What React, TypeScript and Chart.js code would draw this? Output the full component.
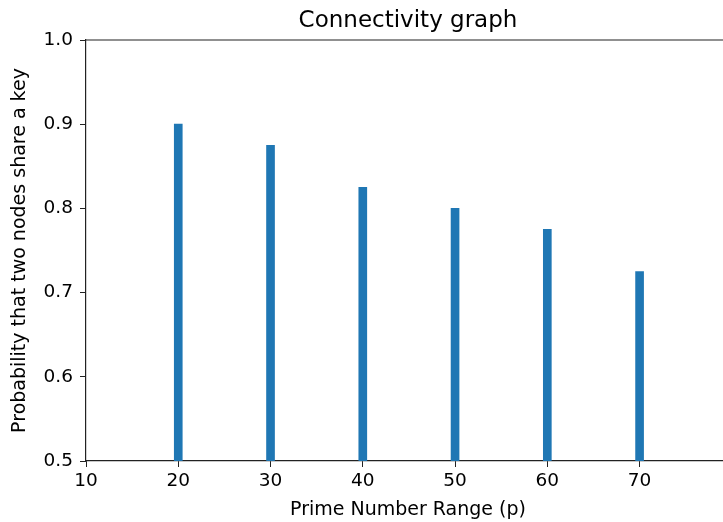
import React, { useEffect, useRef } from "react";
import { Chart, registerables } from "chart.js";

Chart.register(...registerables);

const primeRanges = [20, 30, 40, 50, 60, 70];
const probabilities = [0.9, 0.875, 0.825, 0.8, 0.775, 0.725];
const xMin = 10;
const xMax = 79.8;
const yMin = 0.5;
const yMax = 1.0;
const chartTitle = "Connectivity graph";

const FONT = "'DejaVu Sans', sans-serif";

const axesTitleAndSpine = {
  id: "axesTitleAndSpine",
  afterDraw(chart: any) {
    const { ctx, chartArea } = chart;
    ctx.save();
    ctx.strokeStyle = "#222";
    ctx.lineWidth = 1.2;
    ctx.beginPath();
    ctx.moveTo(chartArea.left, chartArea.top);
    ctx.lineTo(chartArea.right, chartArea.top);
    ctx.lineTo(chartArea.right, chartArea.bottom);
    ctx.stroke();
    ctx.fillStyle = "#000";
    ctx.font = `23px ${FONT}`;
    ctx.textAlign = "center";
    ctx.textBaseline = "middle";
    ctx.fillText(chartTitle, (chartArea.left + chartArea.right) / 2, 21.5);
    ctx.restore();
  },
};

export default function App() {
  const ref = useRef<HTMLCanvasElement | null>(null);
  useEffect(() => {
    if (!ref.current) return;
    const chart = new Chart(ref.current, {
      type: "bar",
      data: {
        datasets: [
          {
            data: primeRanges.map((x, i) => ({ x, y: probabilities[i] })),
            backgroundColor: "#1f77b4",
            barThickness: 8,
          },
        ],
      },
      options: {
        responsive: false,
        animation: false,
        layout: { padding: { top: 40, left: 0, right: 0, bottom: 0 } },
        plugins: {
          legend: { display: false },
          tooltip: { enabled: false },
          title: { display: false },
        },
        scales: {
          x: {
            type: "linear",
            min: xMin,
            max: xMax,
            offset: false,
            afterFit(scale: any) {
              scale.height = 61;
            },
            ticks: {
              stepSize: 10,
              includeBounds: false,
              color: "#000",
              padding: 3,
              maxRotation: 0,
              font: { family: FONT, size: 18.5 },
              callback: (v: any) => String(v),
            },
            grid: {
              offset: false,
              drawOnChartArea: false,
              drawTicks: true,
              tickLength: 6,
              color: "#222",
            },
            border: { display: true, color: "#222", width: 1.2 },
            title: {
              display: true,
              text: "Prime Number Range (p)",
              color: "#000",
              font: { family: FONT, size: 19 },
              padding: { top: 0, bottom: 1 },
            },
          },
          y: {
            type: "linear",
            min: yMin,
            max: yMax,
            afterFit(scale: any) {
              scale.width = 86;
            },
            ticks: {
              stepSize: 0.1,
              color: "#000",
              padding: 7,
              font: { family: FONT, size: 18.5 },
              callback: (v: any) => Number(v).toFixed(1),
            },
            grid: {
              drawOnChartArea: false,
              drawTicks: true,
              tickLength: 6,
              color: "#222",
            },
            border: { display: true, color: "#222", width: 1.2 },
            title: {
              display: true,
              text: "Probability that two nodes share a key",
              color: "#000",
              font: { family: FONT, size: 19 },
              padding: { top: 9, bottom: 0 },
            },
          },
        },
      },
      plugins: [axesTitleAndSpine],
    } as any);
    return () => chart.destroy();
  }, []);
  return (
    <div style={{ position: "absolute", left: 0, top: 0, width: 723, height: 522, overflow: "hidden", background: "#fff" }}>
      <canvas ref={ref} width={730} height={522} style={{ width: 730, height: 522, display: "block" }} />
    </div>
  );
}
